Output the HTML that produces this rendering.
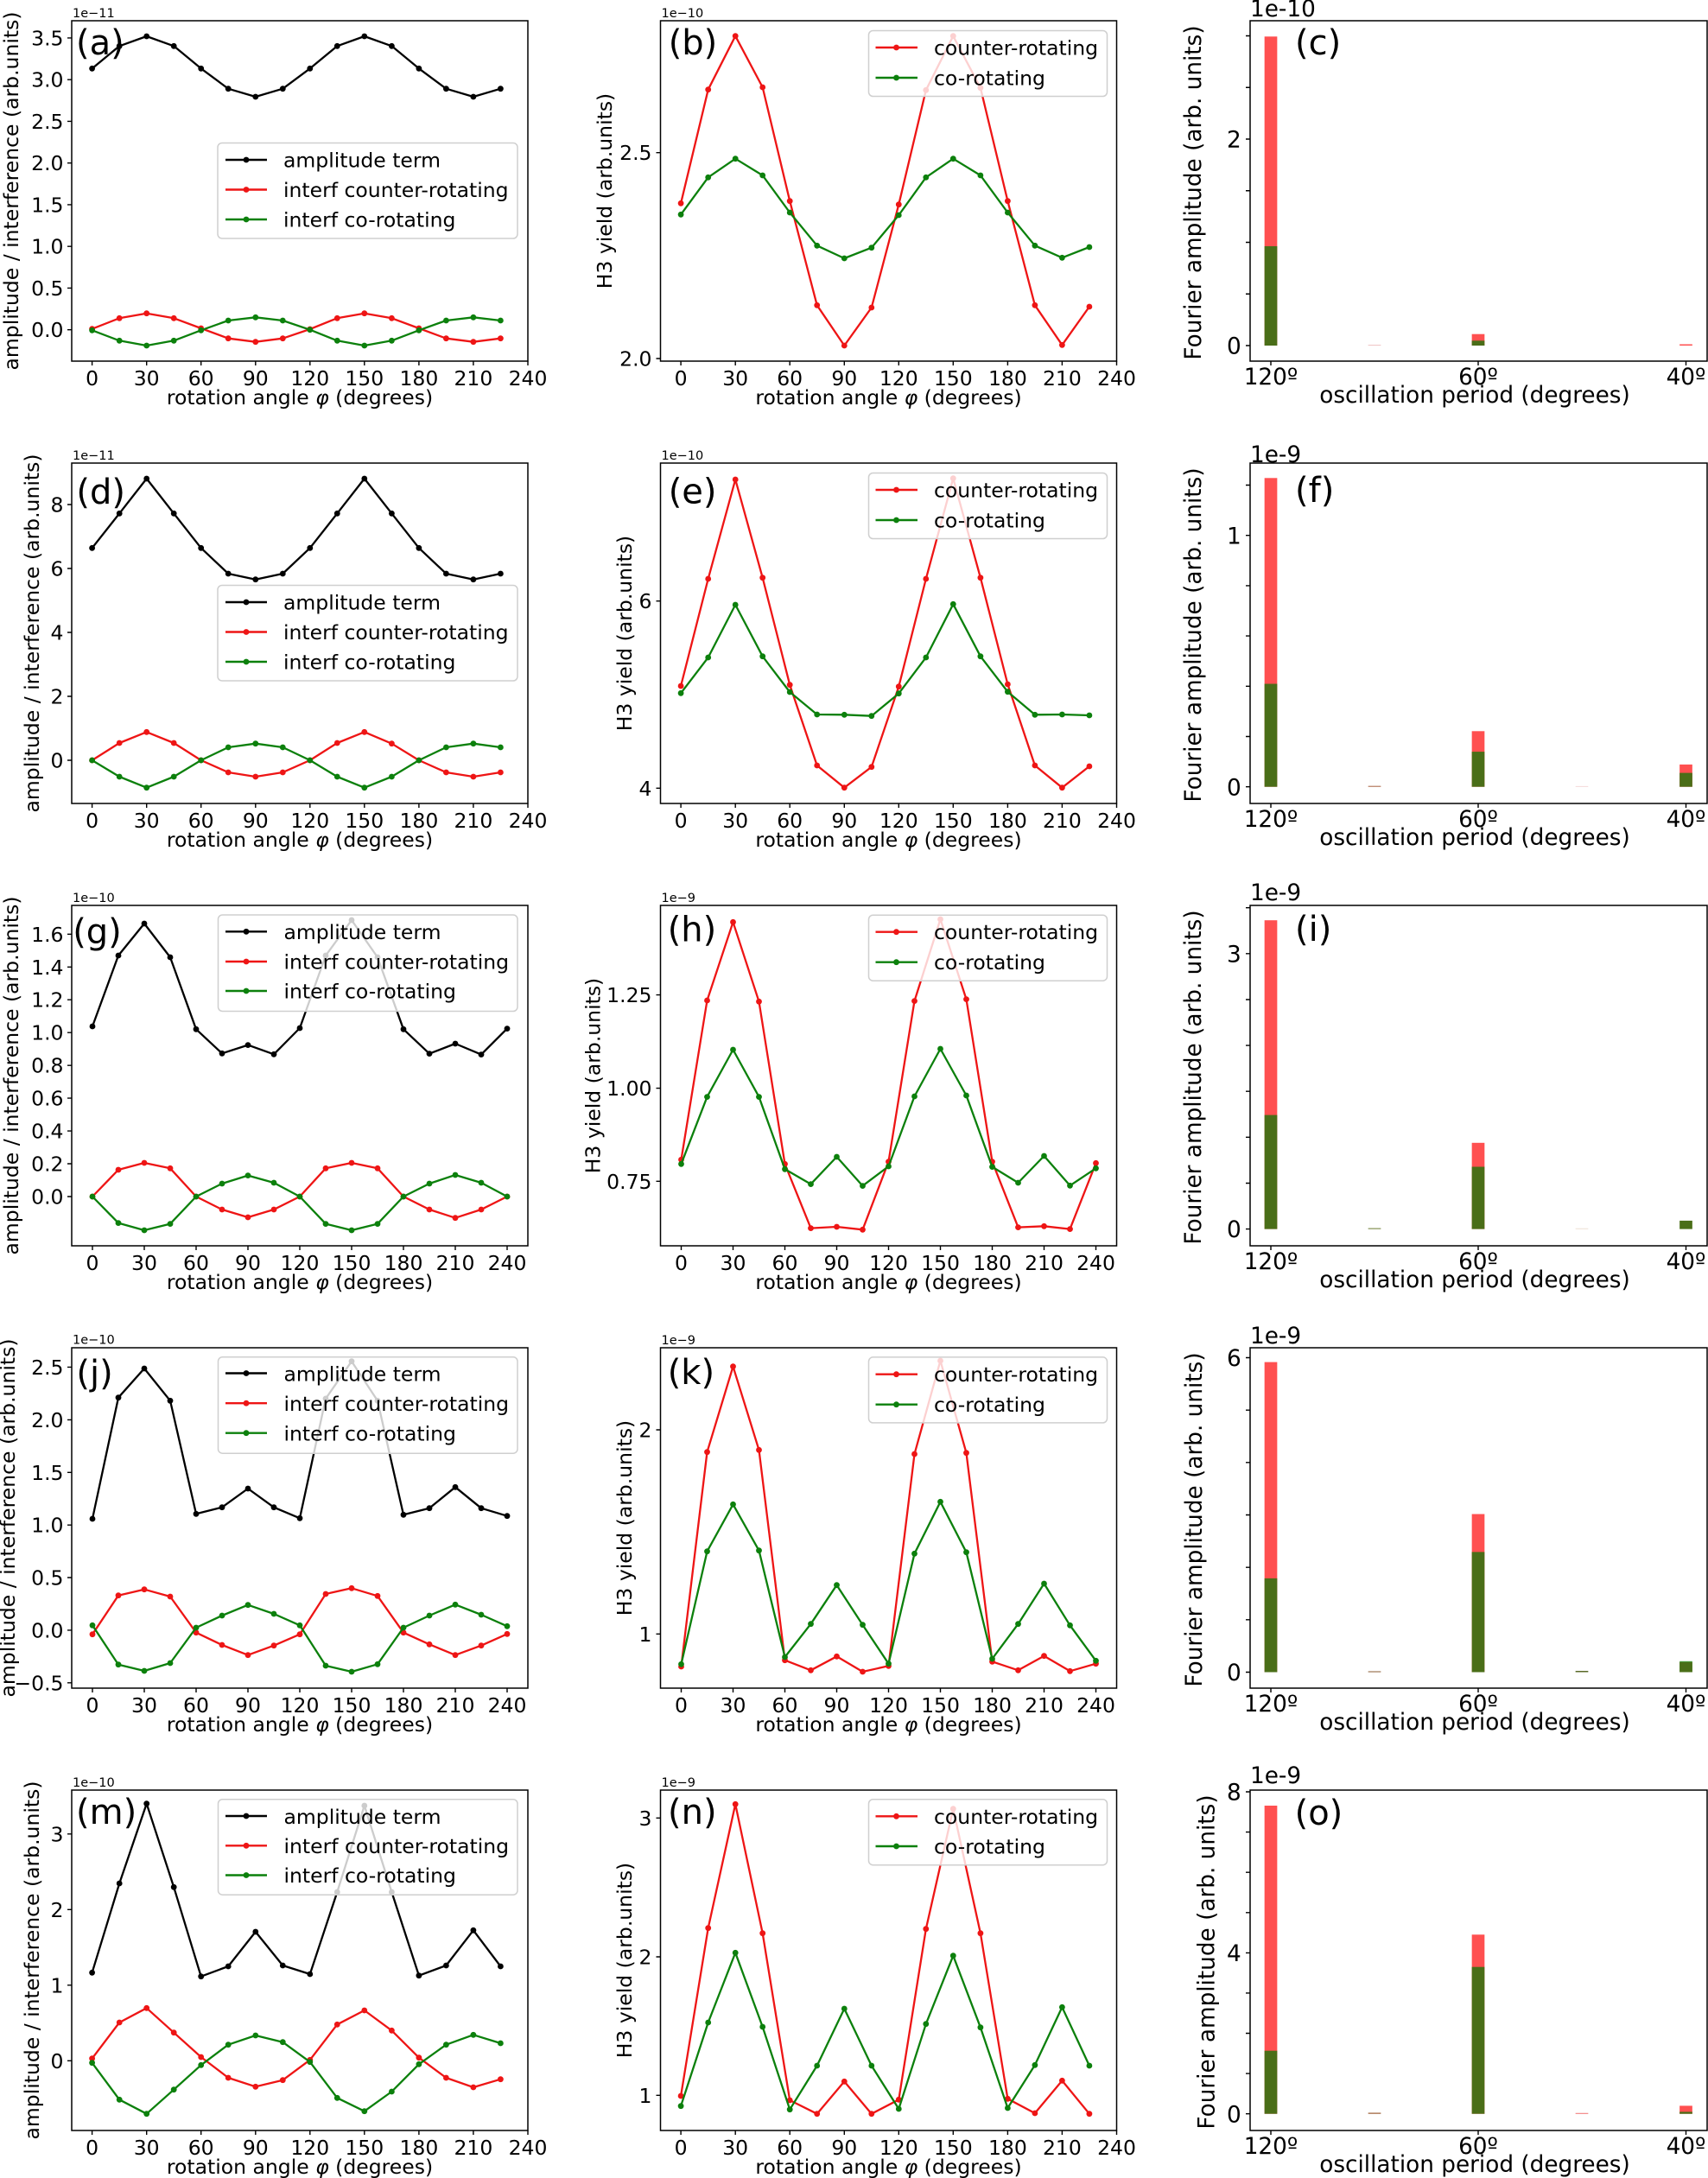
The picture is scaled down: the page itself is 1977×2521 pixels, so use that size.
<!DOCTYPE html>
<html><head><meta charset="utf-8">
<style>
html,body{margin:0;padding:0;background:#fff;}
svg{display:block;}
svg text{font-family:"DejaVu Sans","Liberation Sans",sans-serif;fill:#000;}
.f{font-size:23.5px}
.g{font-size:26.3px}
.s{font-size:14.5px}
.p{font-size:40px}
.m{text-anchor:middle}
.e{text-anchor:end}
.lk{fill:none;stroke:#000;stroke-width:2.3;stroke-linejoin:round;marker-start:url(#mk);marker-mid:url(#mk);marker-end:url(#mk)}
.lr{fill:none;stroke:#ee1515;stroke-width:2.3;stroke-linejoin:round;marker-start:url(#mr);marker-mid:url(#mr);marker-end:url(#mr)}
.lg{fill:none;stroke:#0c800c;stroke-width:2.3;stroke-linejoin:round;marker-start:url(#mg);marker-mid:url(#mg);marker-end:url(#mg)}
.fr{fill:none;stroke:#000;stroke-width:1.5}
.tk{fill:none;stroke:#000;stroke-width:1.4}
.lb{fill:#fff;fill-opacity:0.8;stroke:#cfcfcf;stroke-width:1.5}
.rb{fill:#ff5050}
.gb{fill:#4a6e18}
</style></head>
<body>
<svg width="1977" height="2521" viewBox="0 0 1977 2521" xmlns="http://www.w3.org/2000/svg">
<defs>
<marker id="mk" viewBox="0 0 10 10" refX="5" refY="5" markerWidth="10" markerHeight="10" markerUnits="userSpaceOnUse"><circle cx="5" cy="5" r="3.4" fill="#000"/></marker>
<marker id="mr" viewBox="0 0 10 10" refX="5" refY="5" markerWidth="10" markerHeight="10" markerUnits="userSpaceOnUse"><circle cx="5" cy="5" r="3.4" fill="#ee1515"/></marker>
<marker id="mg" viewBox="0 0 10 10" refX="5" refY="5" markerWidth="10" markerHeight="10" markerUnits="userSpaceOnUse"><circle cx="5" cy="5" r="3.4" fill="#0c800c"/></marker>
</defs>
<rect width="1977" height="2521" fill="#fff"/>

<!-- ================= ROW 1 ================= -->
<!-- (a) -->
<g transform="translate(83,24)">
<polyline class="lk" points="23.6,55.3 55.2,29.3 86.7,18 118.2,29.3 149.7,55.3 181.2,78.7 212.8,88 244.3,78.7 275.8,55.3 307.3,29.3 338.8,18 370.4,29.3 401.9,55.3 433.4,78.7 464.9,88 496.4,78.7"/>
<polyline class="lr" points="23.6,356.7 55.2,344.3 86.7,338.7 118.2,344.3 149.7,356 181.2,367.7 212.8,371.7 244.3,367.7 275.8,357 307.3,344.3 338.8,338.7 370.4,344.3 401.9,356 433.4,367.7 464.9,371.7 496.4,367.7"/>
<polyline class="lg" points="23.6,358.3 55.2,370.3 86.7,376 118.2,370.3 149.7,358.3 181.2,347 212.8,343.3 244.3,347 275.8,357.7 307.3,370.3 338.8,376 370.4,370.3 401.9,358.3 433.4,347 464.9,343.3 496.4,347"/>
<rect class="fr" x="0" y="0" width="528" height="394"/>
<path class="tk" d="M23.6,394v5M86.7,394v5M149.7,394v5M212.8,394v5M275.8,394v5M338.8,394v5M401.9,394v5M464.9,394v5M528,394v5M0,357.7h-5M0,309.45h-5M0,261.2h-5M0,212.95h-5M0,164.7h-5M0,116.45h-5M0,68.2h-5M0,19.95h-5"/>
<g class="f e"><text x="-9.5" y="366.2">0.0</text><text x="-9.5" y="318">0.5</text><text x="-9.5" y="269.7">1.0</text><text x="-9.5" y="221.5">1.5</text><text x="-9.5" y="173.2">2.0</text><text x="-9.5" y="125">2.5</text><text x="-9.5" y="76.7">3.0</text><text x="-9.5" y="28.5">3.5</text></g>
<g class="f m"><text x="23.6" y="422">0</text><text x="86.7" y="422">30</text><text x="149.7" y="422">60</text><text x="212.8" y="422">90</text><text x="275.8" y="422">120</text><text x="338.8" y="422">150</text><text x="401.9" y="422">180</text><text x="464.9" y="422">210</text><text x="528" y="422">240</text></g>
<text class="f m" x="264" y="444">rotation angle <tspan font-style="italic">φ</tspan> (degrees)</text>
<text class="f m" transform="translate(-62,197) rotate(-90)">amplitude / interference (arb.units)</text>
<text class="s" x="1" y="-4">1e−11</text>
<rect class="lb" x="169" y="141.5" width="347" height="110.5" rx="5"/>
<line x1="178" y1="161" x2="226" y2="161" stroke="#000" stroke-width="2.4"/><circle cx="202" cy="161" r="3.4" fill="#000"/>
<line x1="178" y1="195.5" x2="226" y2="195.5" stroke="#ee1515" stroke-width="2.4"/><circle cx="202" cy="195.5" r="3.4" fill="#ee1515"/>
<line x1="178" y1="230" x2="226" y2="230" stroke="#0c800c" stroke-width="2.4"/><circle cx="202" cy="230" r="3.4" fill="#0c800c"/>
<text class="f" x="245" y="169.5">amplitude term</text>
<text class="f" x="245" y="204">interf counter-rotating</text>
<text class="f" x="245" y="238.5">interf co-rotating</text>
<text class="p" x="5" y="39">(a)</text>
</g>

<!-- (b) -->
<g transform="translate(764.5,24)">
<polyline class="lr" points="23.6,211.3 55.2,79.7 86.7,17.7 118.2,77 149.7,208.7 181.2,329.3 212.8,376 244.3,332 275.8,212.7 307.3,80.3 338.8,17.7 370.4,77.7 401.9,208.7 433.4,329.3 464.9,375.3 496.4,331"/>
<polyline class="lg" points="23.6,224.3 55.2,181.3 86.7,159.7 118.2,179 149.7,222 181.2,260.3 212.8,275 244.3,262.7 275.8,225 307.3,181.3 338.8,159.7 370.4,179 401.9,222 433.4,260.3 464.9,274.3 496.4,262"/>
<rect class="fr" x="0" y="0" width="528" height="394"/>
<path class="tk" d="M23.6,394v5M86.7,394v5M149.7,394v5M212.8,394v5M275.8,394v5M338.8,394v5M401.9,394v5M464.9,394v5M528,394v5M0,391h-5M0,152.7h-5"/>
<g class="f e"><text x="-10" y="399.5">2.0</text><text x="-10" y="161.2">2.5</text></g>
<g class="f m"><text x="23.6" y="422">0</text><text x="86.7" y="422">30</text><text x="149.7" y="422">60</text><text x="212.8" y="422">90</text><text x="275.8" y="422">120</text><text x="338.8" y="422">150</text><text x="401.9" y="422">180</text><text x="464.9" y="422">210</text><text x="528" y="422">240</text></g>
<text class="f m" x="264" y="444">rotation angle <tspan font-style="italic">φ</tspan> (degrees)</text>
<text class="f m" transform="translate(-56.5,197) rotate(-90)">H3 yield (arb.units)</text>
<text class="s" x="1" y="-4">1e−10</text>
<rect class="lb" x="241" y="11.5" width="276" height="76" rx="5"/>
<line x1="249" y1="31" x2="297.5" y2="31" stroke="#ee1515" stroke-width="2.4"/><circle cx="273" cy="31" r="3.4" fill="#ee1515"/>
<line x1="249" y1="66" x2="297.5" y2="66" stroke="#0c800c" stroke-width="2.4"/><circle cx="273" cy="66" r="3.4" fill="#0c800c"/>
<text class="f" x="316.5" y="39.5">counter-rotating</text>
<text class="f" x="316.5" y="74.5">co-rotating</text>
<text class="p" x="9.2" y="39">(b)</text>
</g>

<!-- (c) -->
<g transform="translate(1447,24)">
<rect class="rb" x="16.65" y="18.3" width="14.7" height="357.7"/>
<rect class="gb" x="16.65" y="261" width="14.7" height="115"/>
<rect x="136.65" y="375" width="14.7" height="1" fill="#f0c4c4"/>
<rect class="rb" x="256.65" y="362.7" width="14.7" height="13.3"/>
<rect class="gb" x="256.65" y="370.3" width="14.7" height="5.7"/>
<rect class="rb" x="497.15" y="374.5" width="14.7" height="1.5"/>
<rect class="fr" x="0" y="0" width="529" height="394"/>
<path class="tk" d="M24,394v5M264,394v5M504.5,394v5M0,376h-5M0,316.25h-5M0,256.5h-5M0,196.75h-5M0,137h-5M0,77.25h-5M0,17.5h-5"/>
<g class="g e"><text x="-10.3" y="385.6">0</text><text x="-10.3" y="146.6">2</text></g>
<g class="g m"><text x="24" y="421">120º</text><text x="264" y="421">60º</text><text x="504.5" y="421">40º</text></g>
<text class="g m" x="260" y="442">oscillation period (degrees)</text>
<text class="g m" transform="translate(-57,199) rotate(-90)">Fourier amplitude (arb. units)</text>
<text class="g" x="0" y="-5">1e-10</text>
<text class="p" x="52" y="39">(c)</text>
</g>

<!-- ================= ROW 2 ================= -->
<!-- (d) -->
<g transform="translate(83,536)">
<polyline class="lk" points="23.6,98.3 55.2,58.3 86.7,18 118.2,58.3 149.7,98.3 181.2,128 212.8,134.7 244.3,128 275.8,98.3 307.3,58.3 338.8,18 370.4,58.3 401.9,98.3 433.4,128 464.9,134.7 496.4,128"/>
<polyline class="lr" points="23.6,344 55.2,324 86.7,311.3 118.2,324 149.7,344 181.2,358 212.8,363 244.3,358 275.8,344 307.3,324 338.8,311.3 370.4,324.7 401.9,344 433.4,358 464.9,363 496.4,358"/>
<polyline class="lg" points="23.6,344 55.2,363 86.7,375.7 118.2,363 149.7,344 181.2,329 212.8,324.7 244.3,329 275.8,344 307.3,363 338.8,375.7 370.4,363 401.9,344 433.4,329 464.9,324.7 496.4,329"/>
<rect class="fr" x="0" y="0" width="528" height="394"/>
<path class="tk" d="M23.6,394v5M86.7,394v5M149.7,394v5M212.8,394v5M275.8,394v5M338.8,394v5M401.9,394v5M464.9,394v5M528,394v5M0,344h-5M0,270h-5M0,196h-5M0,122h-5M0,48h-5"/>
<g class="f e"><text x="-9.5" y="352.5">0</text><text x="-9.5" y="278.5">2</text><text x="-9.5" y="204.5">4</text><text x="-9.5" y="130.5">6</text><text x="-9.5" y="56.5">8</text></g>
<g class="f m"><text x="23.6" y="422">0</text><text x="86.7" y="422">30</text><text x="149.7" y="422">60</text><text x="212.8" y="422">90</text><text x="275.8" y="422">120</text><text x="338.8" y="422">150</text><text x="401.9" y="422">180</text><text x="464.9" y="422">210</text><text x="528" y="422">240</text></g>
<text class="f m" x="264" y="444">rotation angle <tspan font-style="italic">φ</tspan> (degrees)</text>
<text class="f m" transform="translate(-38,197) rotate(-90)">amplitude / interference (arb.units)</text>
<text class="s" x="1" y="-4">1e−11</text>
<rect class="lb" x="169" y="141.5" width="347" height="110.5" rx="5"/>
<line x1="178" y1="161" x2="226" y2="161" stroke="#000" stroke-width="2.4"/><circle cx="202" cy="161" r="3.4" fill="#000"/>
<line x1="178" y1="195.5" x2="226" y2="195.5" stroke="#ee1515" stroke-width="2.4"/><circle cx="202" cy="195.5" r="3.4" fill="#ee1515"/>
<line x1="178" y1="230" x2="226" y2="230" stroke="#0c800c" stroke-width="2.4"/><circle cx="202" cy="230" r="3.4" fill="#0c800c"/>
<text class="f" x="245" y="169.5">amplitude term</text>
<text class="f" x="245" y="204">interf counter-rotating</text>
<text class="f" x="245" y="238.5">interf co-rotating</text>
<text class="p" x="5.4" y="47">(d)</text>
</g>

<!-- (e) -->
<g transform="translate(764.5,536)">
<polyline class="lr" points="23.6,258 55.2,134 86.7,19 118.2,132.7 149.7,256.7 181.2,350 212.8,375.7 244.3,351.7 275.8,258.7 307.3,134 338.8,17.7 370.4,132.7 401.9,256 433.4,350 464.9,375.7 496.4,351"/>
<polyline class="lg" points="23.6,266.3 55.2,225 86.7,164 118.2,223.7 149.7,265 181.2,291 212.8,291.3 244.3,292.7 275.8,266.7 307.3,225 338.8,163.3 370.4,223.7 401.9,264.7 433.4,291.3 464.9,291 496.4,292"/>
<rect class="fr" x="0" y="0" width="528" height="394"/>
<path class="tk" d="M23.6,394v5M86.7,394v5M149.7,394v5M212.8,394v5M275.8,394v5M338.8,394v5M401.9,394v5M464.9,394v5M528,394v5M0,376.3h-5M0,159.7h-5"/>
<g class="f e"><text x="-10" y="384.8">4</text><text x="-10" y="168.2">6</text></g>
<g class="f m"><text x="23.6" y="422">0</text><text x="86.7" y="422">30</text><text x="149.7" y="422">60</text><text x="212.8" y="422">90</text><text x="275.8" y="422">120</text><text x="338.8" y="422">150</text><text x="401.9" y="422">180</text><text x="464.9" y="422">210</text><text x="528" y="422">240</text></g>
<text class="f m" x="264" y="444">rotation angle <tspan font-style="italic">φ</tspan> (degrees)</text>
<text class="f m" transform="translate(-33.5,197) rotate(-90)">H3 yield (arb.units)</text>
<text class="s" x="1" y="-4">1e−10</text>
<rect class="lb" x="241" y="11.5" width="276" height="76" rx="5"/>
<line x1="249" y1="31" x2="297.5" y2="31" stroke="#ee1515" stroke-width="2.4"/><circle cx="273" cy="31" r="3.4" fill="#ee1515"/>
<line x1="249" y1="66" x2="297.5" y2="66" stroke="#0c800c" stroke-width="2.4"/><circle cx="273" cy="66" r="3.4" fill="#0c800c"/>
<text class="f" x="316.5" y="39.5">counter-rotating</text>
<text class="f" x="316.5" y="74.5">co-rotating</text>
<text class="p" x="9.2" y="46.5">(e)</text>
</g>

<!-- (f) -->
<g transform="translate(1447,536)">
<rect class="rb" x="16.65" y="17.3" width="14.7" height="357.4"/>
<rect class="gb" x="16.65" y="255.5" width="14.7" height="119.2"/>
<rect x="136.65" y="373.7" width="14.7" height="1" fill="#a86040"/>
<rect class="rb" x="256.65" y="310.3" width="14.7" height="64.4"/>
<rect class="gb" x="256.65" y="334.1" width="14.7" height="40.6"/>
<rect x="376.65" y="373.9" width="14.7" height="0.8" fill="#f2d0d0"/>
<rect class="rb" x="497.15" y="348.9" width="14.7" height="25.8"/>
<rect class="gb" x="497.15" y="358.6" width="14.7" height="16.1"/>
<rect class="fr" x="0" y="0" width="529" height="394"/>
<path class="tk" d="M24,394v5M264,394v5M504.5,394v5M0,374.7h-5M0,316.5h-5M0,258.3h-5M0,200.1h-5M0,141.9h-5M0,83.7h-5M0,25.5h-5"/>
<g class="g e"><text x="-10.3" y="384.3">0</text><text x="-10.3" y="93.3">1</text></g>
<g class="g m"><text x="24" y="421">120º</text><text x="264" y="421">60º</text><text x="504.5" y="421">40º</text></g>
<text class="g m" x="260" y="442">oscillation period (degrees)</text>
<text class="g m" transform="translate(-57,199) rotate(-90)">Fourier amplitude (arb. units)</text>
<text class="g" x="0" y="-1">1e-9</text>
<text class="p" x="52" y="45">(f)</text>
</g>

<!-- ================= ROW 3 ================= -->
<!-- (g) -->
<g transform="translate(83,1048)">
<polyline class="lk" points="24,140 54,58 84,21 114,60 144,143.3 174,171.3 204,161.6 234,172.3 264,142 294,58 324,17 354,60 384,143.3 414,171.6 444,160 474,172.6 504,142.6"/>
<polyline class="lr" points="24,337 54,306 84,298 114,304.3 144,337 174,352 204,361 234,352 264,337 294,304.3 324,298 354,304.3 384,337 414,352 444,361.7 474,352 504,337"/>
<polyline class="lg" points="24,337 54,367.6 84,376 114,368.6 144,337 174,322 204,312.6 234,321 264,337 294,368.6 324,376 354,368.6 384,337 414,322 444,312 474,321 504,337"/>
<rect class="fr" x="0" y="0" width="528" height="394"/>
<path class="tk" d="M24,394v5M84,394v5M144,394v5M204,394v5M264,394v5M324,394v5M384,394v5M444,394v5M504,394v5M0,337h-5M0,299h-5M0,261.1h-5M0,223.1h-5M0,185.2h-5M0,147.2h-5M0,109.2h-5M0,71.3h-5M0,33.3h-5"/>
<g class="f e"><text x="-9.5" y="345.5">0.0</text><text x="-9.5" y="307.5">0.2</text><text x="-9.5" y="269.6">0.4</text><text x="-9.5" y="231.6">0.6</text><text x="-9.5" y="193.7">0.8</text><text x="-9.5" y="155.7">1.0</text><text x="-9.5" y="117.7">1.2</text><text x="-9.5" y="79.8">1.4</text><text x="-9.5" y="41.8">1.6</text></g>
<g class="f m"><text x="24" y="422">0</text><text x="84" y="422">30</text><text x="144" y="422">60</text><text x="204" y="422">90</text><text x="264" y="422">120</text><text x="324" y="422">150</text><text x="384" y="422">180</text><text x="444" y="422">210</text><text x="504" y="422">240</text></g>
<text class="f m" x="264" y="444">rotation angle <tspan font-style="italic">φ</tspan> (degrees)</text>
<text class="f m" transform="translate(-62,197) rotate(-90)">amplitude / interference (arb.units)</text>
<text class="s" x="1" y="-4">1e−10</text>
<rect class="lb" x="169.5" y="11" width="346.5" height="111.5" rx="5"/>
<line x1="178" y1="30.3" x2="226" y2="30.3" stroke="#000" stroke-width="2.4"/><circle cx="202" cy="30.3" r="3.4" fill="#000"/>
<line x1="178" y1="65" x2="226" y2="65" stroke="#ee1515" stroke-width="2.4"/><circle cx="202" cy="65" r="3.4" fill="#ee1515"/>
<line x1="178" y1="99" x2="226" y2="99" stroke="#0c800c" stroke-width="2.4"/><circle cx="202" cy="99" r="3.4" fill="#0c800c"/>
<text class="f" x="245.5" y="39">amplitude term</text>
<text class="f" x="245.5" y="73.5">interf counter-rotating</text>
<text class="f" x="245.5" y="107.5">interf co-rotating</text>
<text class="p" x="1.2" y="44">(g)</text>
</g>

<!-- (h) -->
<g transform="translate(764.5,1048)">
<polyline class="lr" points="24,294.3 54,110 84,19.3 114,111.3 144,299.3 174,373.6 204,372 234,375.3 264,296.6 294,110.6 324,16 354,108.6 384,296.6 414,372.6 444,371.3 474,374.6 504,298.3"/>
<polyline class="lg" points="24,299.3 54,221.6 84,167 114,221.6 144,305.3 174,322.6 204,291 234,324.6 264,302 294,221 324,166 354,220 384,302.6 414,321 444,290 474,324.3 504,304.3"/>
<rect class="fr" x="0" y="0" width="528" height="394"/>
<path class="tk" d="M24,394v5M84,394v5M144,394v5M204,394v5M264,394v5M324,394v5M384,394v5M444,394v5M504,394v5M0,319.3h-5M0,211.6h-5M0,103.6h-5"/>
<g class="f e"><text x="-10" y="327.8">0.75</text><text x="-10" y="220.1">1.00</text><text x="-10" y="112.1">1.25</text></g>
<g class="f m"><text x="24" y="422">0</text><text x="84" y="422">30</text><text x="144" y="422">60</text><text x="204" y="422">90</text><text x="264" y="422">120</text><text x="324" y="422">150</text><text x="384" y="422">180</text><text x="444" y="422">210</text><text x="504" y="422">240</text></g>
<text class="f m" x="264" y="444">rotation angle <tspan font-style="italic">φ</tspan> (degrees)</text>
<text class="f m" transform="translate(-70,197) rotate(-90)">H3 yield (arb.units)</text>
<text class="s" x="1" y="-4">1e−9</text>
<rect class="lb" x="241" y="11.2" width="276" height="76" rx="5"/>
<line x1="249" y1="30.7" x2="297.5" y2="30.7" stroke="#ee1515" stroke-width="2.4"/><circle cx="273" cy="30.7" r="3.4" fill="#ee1515"/>
<line x1="249" y1="65.7" x2="297.5" y2="65.7" stroke="#0c800c" stroke-width="2.4"/><circle cx="273" cy="65.7" r="3.4" fill="#0c800c"/>
<text class="f" x="316.5" y="39.2">counter-rotating</text>
<text class="f" x="316.5" y="74.2">co-rotating</text>
<text class="p" x="8.2" y="41.3">(h)</text>
</g>

<!-- (i) -->
<g transform="translate(1447,1048)">
<rect class="rb" x="16.65" y="17.2" width="14.7" height="357.4"/>
<rect class="gb" x="16.65" y="242.6" width="14.7" height="132"/>
<rect x="136.65" y="373.6" width="14.7" height="1" fill="#6a7a30"/>
<rect class="rb" x="256.65" y="274.8" width="14.7" height="99.8"/>
<rect class="gb" x="256.65" y="302.5" width="14.7" height="72.1"/>
<rect x="376.65" y="373.8" width="14.7" height="0.8" fill="#e8d8c8"/>
<rect class="gb" x="497.15" y="364.9" width="14.7" height="9.7"/>
<rect class="fr" x="0" y="0" width="529" height="394"/>
<path class="tk" d="M24,394v5M264,394v5M504.5,394v5M0,374.6h-5M0,321.5h-5M0,268.3h-5M0,215.2h-5M0,162.1h-5M0,109h-5M0,55.8h-5M0,2.7h-5"/>
<g class="g e"><text x="-10.3" y="384.2">0</text><text x="-10.3" y="65.4">3</text></g>
<g class="g m"><text x="24" y="421">120º</text><text x="264" y="421">60º</text><text x="504.5" y="421">40º</text></g>
<text class="g m" x="260" y="442">oscillation period (degrees)</text>
<text class="g m" transform="translate(-57,199) rotate(-90)">Fourier amplitude (arb. units)</text>
<text class="g" x="0" y="-6">1e-9</text>
<text class="p" x="52" y="41">(i)</text>
</g>

<!-- ================= ROW 4 ================= -->
<!-- (j) -->
<g transform="translate(83,1560)">
<polyline class="lk" points="24,198 54,57.7 84,24 114,61.3 144,192.3 174,184.7 204,163 234,184.7 264,197.3 294,58.9 324,15.7 354,61.3 384,193.3 414,185.7 444,161.3 474,185.7 504,194.7"/>
<polyline class="lr" points="24,331.7 54,286.7 84,279.7 114,288 144,329.7 174,344 204,355.7 234,344.7 264,331.7 294,285 324,278.3 354,287.3 384,329.7 414,343.3 444,355.7 474,344.7 504,331.3"/>
<polyline class="lg" points="24,321.3 54,366.7 84,374 114,365 144,324 174,310 204,297.7 234,308 264,321.3 294,368 324,375 354,366.3 384,324 414,310 444,297.3 474,309 504,322.3"/>
<rect class="fr" x="0" y="0" width="528" height="394"/>
<path class="tk" d="M24,394v5M84,394v5M144,394v5M204,394v5M264,394v5M324,394v5M384,394v5M444,394v5M504,394v5M0,387.8h-5M0,326.9h-5M0,266h-5M0,205.2h-5M0,144.3h-5M0,83.4h-5M0,22.4h-5"/>
<g class="f e"><text x="-9.5" y="396.3">−0.5</text><text x="-9.5" y="335.4">0.0</text><text x="-9.5" y="274.5">0.5</text><text x="-9.5" y="213.7">1.0</text><text x="-9.5" y="152.8">1.5</text><text x="-9.5" y="91.9">2.0</text><text x="-9.5" y="30.9">2.5</text></g>
<g class="f m"><text x="24" y="422">0</text><text x="84" y="422">30</text><text x="144" y="422">60</text><text x="204" y="422">90</text><text x="264" y="422">120</text><text x="324" y="422">150</text><text x="384" y="422">180</text><text x="444" y="422">210</text><text x="504" y="422">240</text></g>
<text class="f m" x="264" y="444">rotation angle <tspan font-style="italic">φ</tspan> (degrees)</text>
<text class="f m" transform="translate(-66,197) rotate(-90)">amplitude / interference (arb.units)</text>
<text class="s" x="1" y="-4.5">1e−10</text>
<rect class="lb" x="169.5" y="10.7" width="346.5" height="111.5" rx="5"/>
<line x1="178" y1="29.5" x2="226" y2="29.5" stroke="#000" stroke-width="2.4"/><circle cx="202" cy="29.5" r="3.4" fill="#000"/>
<line x1="178" y1="64.2" x2="226" y2="64.2" stroke="#ee1515" stroke-width="2.4"/><circle cx="202" cy="64.2" r="3.4" fill="#ee1515"/>
<line x1="178" y1="98.7" x2="226" y2="98.7" stroke="#0c800c" stroke-width="2.4"/><circle cx="202" cy="98.7" r="3.4" fill="#0c800c"/>
<text class="f" x="245.5" y="38.3">amplitude term</text>
<text class="f" x="245.5" y="73">interf counter-rotating</text>
<text class="f" x="245.5" y="107.5">interf co-rotating</text>
<text class="p" x="5.4" y="43">(j)</text>
</g>

<!-- (k) -->
<g transform="translate(764.5,1560)">
<polyline class="lr" points="24,369 54,120.7 84,21.7 114,118.3 144,361.7 174,373.3 204,357.3 234,375 264,368.3 294,123 324,15 354,121.7 384,363.3 414,373.3 444,356.7 474,374.3 504,365.7"/>
<polyline class="lg" points="24,366.3 54,235.7 84,181.3 114,234.7 144,358 174,319.7 204,274.7 234,320.7 264,365.7 294,238.3 324,178.3 354,236.7 384,360 414,319.7 444,273 474,321.3 504,362.3"/>
<rect class="fr" x="0" y="0" width="528" height="394"/>
<path class="tk" d="M24,394v5M84,394v5M144,394v5M204,394v5M264,394v5M324,394v5M384,394v5M444,394v5M504,394v5M0,331.3h-5M0,95h-5"/>
<g class="f e"><text x="-10" y="339.8">1</text><text x="-10" y="103.5">2</text></g>
<g class="f m"><text x="24" y="422">0</text><text x="84" y="422">30</text><text x="144" y="422">60</text><text x="204" y="422">90</text><text x="264" y="422">120</text><text x="324" y="422">150</text><text x="384" y="422">180</text><text x="444" y="422">210</text><text x="504" y="422">240</text></g>
<text class="f m" x="264" y="444">rotation angle <tspan font-style="italic">φ</tspan> (degrees)</text>
<text class="f m" transform="translate(-33.5,197) rotate(-90)">H3 yield (arb.units)</text>
<text class="s" x="1" y="-4">1e−9</text>
<rect class="lb" x="241" y="10.9" width="276" height="76" rx="5"/>
<line x1="249" y1="30.7" x2="297.5" y2="30.7" stroke="#ee1515" stroke-width="2.4"/><circle cx="273" cy="30.7" r="3.4" fill="#ee1515"/>
<line x1="249" y1="65.7" x2="297.5" y2="65.7" stroke="#0c800c" stroke-width="2.4"/><circle cx="273" cy="65.7" r="3.4" fill="#0c800c"/>
<text class="f" x="316.5" y="39.2">counter-rotating</text>
<text class="f" x="316.5" y="74.2">co-rotating</text>
<text class="p" x="8.2" y="42">(k)</text>
</g>

<!-- (l) -->
<g transform="translate(1447,1560)">
<rect class="rb" x="16.65" y="16.6" width="14.7" height="358.9"/>
<rect class="gb" x="16.65" y="266.9" width="14.7" height="108.6"/>
<rect x="136.65" y="374.5" width="14.7" height="1" fill="#8a5a30"/>
<rect class="rb" x="256.65" y="192.5" width="14.7" height="183"/>
<rect class="gb" x="256.65" y="236.4" width="14.7" height="139.1"/>
<rect x="376.65" y="374" width="14.7" height="1.5" fill="#5a6a28"/>
<rect x="497.15" y="362.8" width="14.7" height="12.7" fill="#4d9a3d"/>
<rect class="gb" x="497.15" y="364" width="14.7" height="11.5"/>
<rect class="fr" x="0" y="0" width="529" height="394"/>
<path class="tk" d="M24,394v5M264,394v5M504.5,394v5M0,375.5h-5M0,314.8h-5M0,254.2h-5M0,193.5h-5M0,132.8h-5M0,72.2h-5M0,11.5h-5"/>
<g class="g e"><text x="-10.3" y="385.1">0</text><text x="-10.3" y="21.1">6</text></g>
<g class="g m"><text x="24" y="421">120º</text><text x="264" y="421">60º</text><text x="504.5" y="421">40º</text></g>
<text class="g m" x="260" y="442">oscillation period (degrees)</text>
<text class="g m" transform="translate(-56,199) rotate(-90)">Fourier amplitude (arb. units)</text>
<text class="g" x="0" y="-5">1e-9</text>
</g>

<!-- ================= ROW 5 ================= -->
<!-- (m) -->
<g transform="translate(83,2072)">
<polyline class="lk" points="23.6,211.3 55.2,108 86.7,15.7 118.2,112.3 149.7,215.7 181.2,204 212.8,164 244.3,203 275.8,213 307.3,118 338.8,18 370.4,118 401.9,214.7 433.4,203 464.9,162.3 496.4,204"/>
<polyline class="lr" points="23.6,310.7 55.2,269 86.7,252.3 118.2,280.7 149.7,309 181.2,333 212.8,343.3 244.3,335.7 275.8,312.3 307.3,271.3 338.8,255 370.4,278.3 401.9,309.7 433.4,333 464.9,344 496.4,334.7"/>
<polyline class="lg" points="23.6,315.7 55.2,358.3 86.7,374.7 118.2,346.7 149.7,318.3 181.2,294.7 212.8,284 244.3,291.7 275.8,314.7 307.3,356.3 338.8,371.7 370.4,349 401.9,317.3 433.4,294.7 464.9,283.3 496.4,293"/>
<rect class="fr" x="0" y="0" width="528" height="394"/>
<path class="tk" d="M23.6,394v5M86.7,394v5M149.7,394v5M212.8,394v5M275.8,394v5M338.8,394v5M401.9,394v5M464.9,394v5M528,394v5M0,313.3h-5M0,225.8h-5M0,138.3h-5M0,50.8h-5"/>
<g class="f e"><text x="-9.5" y="321.8">0</text><text x="-9.5" y="234.3">1</text><text x="-9.5" y="146.8">2</text><text x="-9.5" y="59.3">3</text></g>
<g class="f m"><text x="23.6" y="422">0</text><text x="86.7" y="422">30</text><text x="149.7" y="422">60</text><text x="212.8" y="422">90</text><text x="275.8" y="422">120</text><text x="338.8" y="422">150</text><text x="401.9" y="422">180</text><text x="464.9" y="422">210</text><text x="528" y="422">240</text></g>
<text class="f m" x="264" y="444">rotation angle <tspan font-style="italic">φ</tspan> (degrees)</text>
<text class="f m" transform="translate(-38,197) rotate(-90)">amplitude / interference (arb.units)</text>
<text class="s" x="1" y="-4">1e−10</text>
<rect class="lb" x="169.5" y="10.7" width="346.5" height="110.5" rx="5"/>
<line x1="178" y1="30" x2="226" y2="30" stroke="#000" stroke-width="2.4"/><circle cx="202" cy="30" r="3.4" fill="#000"/>
<line x1="178" y1="64.3" x2="226" y2="64.3" stroke="#ee1515" stroke-width="2.4"/><circle cx="202" cy="64.3" r="3.4" fill="#ee1515"/>
<line x1="178" y1="98.5" x2="226" y2="98.5" stroke="#0c800c" stroke-width="2.4"/><circle cx="202" cy="98.5" r="3.4" fill="#0c800c"/>
<text class="f" x="245.5" y="38.8">amplitude term</text>
<text class="f" x="245.5" y="73">interf counter-rotating</text>
<text class="f" x="245.5" y="107.2">interf co-rotating</text>
<text class="p" x="5" y="39">(m)</text>
</g>

<!-- (n) -->
<g transform="translate(764.5,2072)">
<polyline class="lr" points="23.6,354 55.2,159.7 86.7,16.3 118.2,165.7 149.7,359 181.2,374.7 212.8,337.3 244.3,374.7 275.8,358.3 307.3,160.7 338.8,21.7 370.4,165.7 401.9,357.3 433.4,374 464.9,336.3 496.4,374.7"/>
<polyline class="lg" points="23.6,365.7 55.2,269 86.7,188.3 118.2,274 149.7,369.7 181.2,319 212.8,253 244.3,319 275.8,369 307.3,270.7 338.8,191.7 370.4,274.7 401.9,368 433.4,318.3 464.9,251.3 496.4,319"/>
<rect class="fr" x="0" y="0" width="528" height="394"/>
<path class="tk" d="M23.6,394v5M86.7,394v5M149.7,394v5M212.8,394v5M275.8,394v5M338.8,394v5M401.9,394v5M464.9,394v5M528,394v5M0,353.3h-5M0,193h-5M0,32.3h-5"/>
<g class="f e"><text x="-10" y="361.8">1</text><text x="-10" y="201.5">2</text><text x="-10" y="40.8">3</text></g>
<g class="f m"><text x="23.6" y="422">0</text><text x="86.7" y="422">30</text><text x="149.7" y="422">60</text><text x="212.8" y="422">90</text><text x="275.8" y="422">120</text><text x="338.8" y="422">150</text><text x="401.9" y="422">180</text><text x="464.9" y="422">210</text><text x="528" y="422">240</text></g>
<text class="f m" x="264" y="444">rotation angle <tspan font-style="italic">φ</tspan> (degrees)</text>
<text class="f m" transform="translate(-33.5,197) rotate(-90)">H3 yield (arb.units)</text>
<text class="s" x="1" y="-4">1e−9</text>
<rect class="lb" x="241" y="10.7" width="276" height="76" rx="5"/>
<line x1="249" y1="30.3" x2="297.5" y2="30.3" stroke="#ee1515" stroke-width="2.4"/><circle cx="273" cy="30.3" r="3.4" fill="#ee1515"/>
<line x1="249" y1="65" x2="297.5" y2="65" stroke="#0c800c" stroke-width="2.4"/><circle cx="273" cy="65" r="3.4" fill="#0c800c"/>
<text class="f" x="316.5" y="38.8">counter-rotating</text>
<text class="f" x="316.5" y="73.5">co-rotating</text>
<text class="p" x="8.5" y="39">(n)</text>
</g>

<!-- (o) -->
<g transform="translate(1447,2072)">
<rect class="rb" x="16.65" y="18" width="14.7" height="356.7"/>
<rect class="gb" x="16.65" y="301.7" width="14.7" height="73"/>
<rect x="136.65" y="373.5" width="14.7" height="1.2" fill="#9a5a30"/>
<rect class="rb" x="256.65" y="167.3" width="14.7" height="207.4"/>
<rect class="gb" x="256.65" y="204.7" width="14.7" height="170"/>
<rect x="376.65" y="373.8" width="14.7" height="0.9" fill="#f06060"/>
<rect class="rb" x="497.15" y="365.4" width="14.7" height="9.3"/>
<rect class="gb" x="497.15" y="372.4" width="14.7" height="2.3"/>
<rect class="fr" x="0" y="0" width="529" height="394"/>
<path class="tk" d="M24,394v5M264,394v5M504.5,394v5M0,374.7h-5M0,328.1h-5M0,281.5h-5M0,234.9h-5M0,188.4h-5M0,141.8h-5M0,95.2h-5M0,48.6h-5M0,2h-5"/>
<g class="g e"><text x="-10.3" y="384.3">0</text><text x="-10.3" y="198">4</text><text x="-10.3" y="11.6">8</text></g>
<g class="g m"><text x="24" y="421">120º</text><text x="264" y="421">60º</text><text x="504.5" y="421">40º</text></g>
<text class="g m" x="260" y="442">oscillation period (degrees)</text>
<text class="g m" transform="translate(-41.5,199) rotate(-90)">Fourier amplitude (arb. units)</text>
<text class="g" x="0" y="-8">1e-9</text>
<text class="p" x="51.6" y="40">(o)</text>
</g>
</svg>
</body></html>
